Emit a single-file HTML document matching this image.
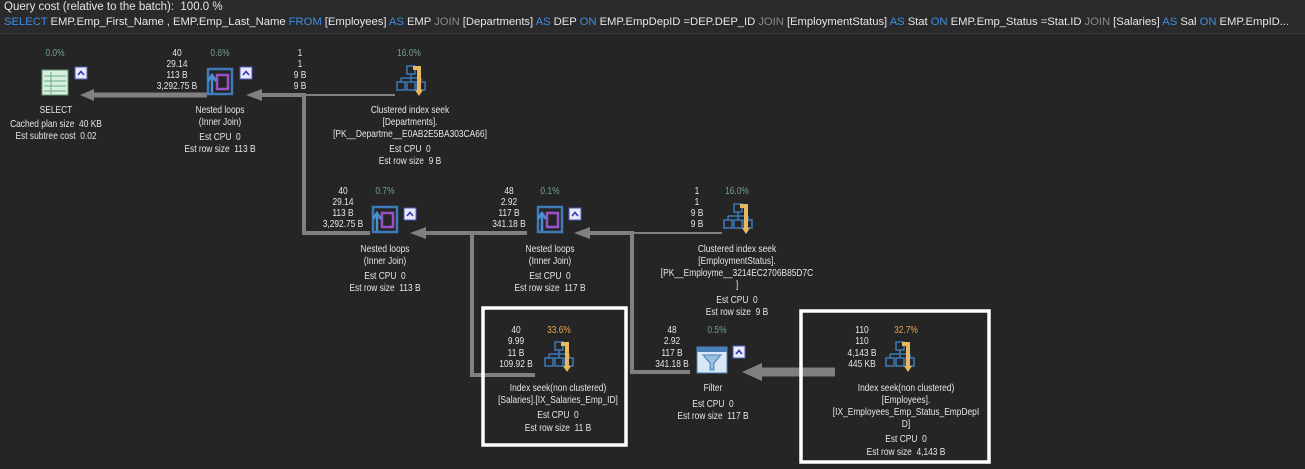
<!DOCTYPE html>
<html><head><meta charset="utf-8"><style>
html,body{margin:0;padding:0;background:#252526;}
body{width:1305px;height:469px;overflow:hidden;position:relative;font-family:"Liberation Sans",sans-serif;}
.hdr{position:absolute;left:0;top:0;width:1305px;height:33px;background:#2a2a2c;border-bottom:1px solid #3a3a3c;overflow:hidden;}
.h1{position:absolute;left:4px;top:1px;font-size:11.5px;color:#e6e6e6;white-space:nowrap;}
.h2{position:absolute;left:4px;top:16px;font-size:11.3px;color:#e6e6e6;white-space:nowrap;letter-spacing:-0.05px;}
.k{color:#3d8ee0}.g{color:#8a8a8a}
svg{position:absolute;left:0;top:0}
</style></head><body>
<div class="hdr">
<div class="h1">Query cost (relative to the batch):&nbsp; 100.0 %</div>
<div class="h2"><span class="k">SELECT</span> EMP.Emp_First_Name , EMP.Emp_Last_Name <span class="k">FROM</span> [Employees] <span class="k">AS</span> EMP <span class="g">JOIN</span> [Departments] <span class="k">AS</span> DEP <span class="k">ON</span> EMP.EmpDepID =DEP.DEP_ID <span class="g">JOIN</span> [EmploymentStatus] <span class="k">AS</span> Stat <span class="k">ON</span> EMP.Emp_Status =Stat.ID <span class="g">JOIN</span> [Salaries] <span class="k">AS</span> Sal <span class="k">ON</span> EMP.EmpID...</div>
</div>
<svg width="1305" height="469" font-family="Liberation Sans, sans-serif" font-size="10" fill="#e6e6e6">
<defs>
<g id="chev"><rect width="12" height="12" fill="#e8e8f8" stroke="#4a5cc0"/><path d="M3 8 L6 4.5 L9 8" stroke="#2a3ab0" stroke-width="1.6" fill="none"/></g>
<g id="nl"><rect x="2" y="2" width="24" height="25" fill="none" stroke="#3c7ab8" stroke-width="2.5"/><rect x="11" y="8" width="11" height="14" fill="none" stroke="#9a50c8" stroke-width="2.5"/><path d="M6 26 V10 M2 14 L6 8 L10 14" stroke="#4a8fd0" stroke-width="2.5" fill="none"/></g>
<g id="seek"><rect x="11" y="2" width="8" height="8" fill="none" stroke="#3c7ab8" stroke-width="1.5"/><path d="M15 10 V14 M5 14 H25 M5 14 V18 M15 14 V18 M25 14 V18" stroke="#3c7ab8" stroke-width="1.5"/><rect x="1" y="18" width="8" height="8" fill="none" stroke="#3c7ab8" stroke-width="1.5"/><rect x="11" y="18" width="8" height="8" fill="none" stroke="#3c7ab8" stroke-width="1.5"/><rect x="21" y="18" width="8" height="8" fill="none" stroke="#3c7ab8" stroke-width="1.5"/><path d="M17 4 H23 V26" stroke="#e8b860" stroke-width="4" fill="none"/><path d="M19 26 L23 32 L27 26 Z" fill="#e8b860"/></g>
</defs>
<g stroke="#808080" fill="none">
<path d="M207 95 H92" stroke-width="5"/>
<path d="M395 95 H262" stroke-width="2"/>
<path d="M370 233 H304 V95 H262" stroke-width="4"/>
<path d="M527 233 H425" stroke-width="4"/>
<path d="M535 375 H472 V233" stroke-width="4"/>
<path d="M722 233 H632" stroke-width="2"/>
<path d="M690 372 H632 V233 H590" stroke-width="4"/>
<path d="M835 372 H760" stroke-width="9"/>
</g>
<g fill="#808080">
<path d="M80 95 L94 89 L94 101 Z"/>
<path d="M246 95 L262 89 L262 101 Z"/>
<path d="M410 233 L426 227 L426 239 Z"/>
<path d="M574 233 L590 227 L590 239 Z"/>
<path d="M742 372 L762 363 L762 381 Z"/>
</g>
<rect x="483" y="308" width="143" height="137" fill="none" stroke="#fff" stroke-width="3.5"/>
<rect x="801" y="311" width="188" height="151" fill="none" stroke="#fff" stroke-width="3.5"/>
<rect x="42" y="70" width="26" height="25" fill="#d8efe0" stroke="#5a9a70"/>
<path d="M44 76 H66 M44 81 H66 M44 86 H66 M44 91 H66 M51 72 V94" stroke="#6aaa80" stroke-width="1"/>
<use href="#chev" x="75" y="67"/>
<g text-anchor="middle">
<text x="55" y="56" fill="#6fa38c">0.0%</text>
<text x="56" y="113">SELECT</text>
<text x="56" y="127">Cached plan size&#160; 40 KB</text>
<text x="56" y="139">Est subtree cost&#160; 0.02</text>
</g>
<use href="#nl" x="206" y="67"/><use href="#chev" x="240" y="67"/>
<g text-anchor="middle">
<text x="177" y="56">40</text><text x="177" y="67">29.14</text><text x="177" y="78">113 B</text><text x="177" y="89">3,292.75 B</text>
<text x="220" y="56" fill="#6fa38c">0.6%</text>
<text x="220" y="113">Nested loops</text><text x="220" y="125">(Inner Join)</text>
<text x="220" y="140">Est CPU&#160; 0</text><text x="220" y="152">Est row size&#160; 113 B</text>
</g>
<use href="#seek" x="396" y="64"/>
<g text-anchor="middle">
<text x="300" y="56">1</text><text x="300" y="67">1</text><text x="300" y="78">9 B</text><text x="300" y="89">9 B</text>
<text x="409" y="56" fill="#6fa38c">16.0%</text>
<text x="410" y="113">Clustered index seek</text><text x="410" y="125">[Departments].</text><text x="410" y="137">[PK__Departme__E0AB2E5BA303CA66]</text>
<text x="410" y="152">Est CPU&#160; 0</text><text x="410" y="164">Est row size&#160; 9 B</text>
</g>
<use href="#nl" x="371" y="205"/><use href="#chev" x="404" y="208"/>
<g text-anchor="middle">
<text x="343" y="194">40</text><text x="343" y="205">29.14</text><text x="343" y="216">113 B</text><text x="343" y="227">3,292.75 B</text>
<text x="385" y="194" fill="#6fa38c">0.7%</text>
<text x="385" y="252">Nested loops</text><text x="385" y="264">(Inner Join)</text>
<text x="385" y="279">Est CPU&#160; 0</text><text x="385" y="291">Est row size&#160; 113 B</text>
</g>
<use href="#nl" x="536" y="205"/><use href="#chev" x="569" y="208"/>
<g text-anchor="middle">
<text x="509" y="194">48</text><text x="509" y="205">2.92</text><text x="509" y="216">117 B</text><text x="509" y="227">341.18 B</text>
<text x="550" y="194" fill="#6fa38c">0.1%</text>
<text x="550" y="252">Nested loops</text><text x="550" y="264">(Inner Join)</text>
<text x="550" y="279">Est CPU&#160; 0</text><text x="550" y="291">Est row size&#160; 117 B</text>
</g>
<use href="#seek" x="723" y="202"/>
<g text-anchor="middle">
<text x="697" y="194">1</text><text x="697" y="205">1</text><text x="697" y="216">9 B</text><text x="697" y="227">9 B</text>
<text x="737" y="194" fill="#6fa38c">16.0%</text>
<text x="737" y="252">Clustered index seek</text><text x="737" y="264">[EmploymentStatus].</text><text x="737" y="276">[PK__Employme__3214EC2706B85D7C</text><text x="737" y="288">]</text>
<text x="737" y="303">Est CPU&#160; 0</text><text x="737" y="315">Est row size&#160; 9 B</text>
</g>
<use href="#seek" x="544" y="340"/>
<g text-anchor="middle">
<text x="516" y="333">40</text><text x="516" y="344">9.99</text><text x="516" y="356">11 B</text><text x="516" y="367">109.92 B</text>
<text x="559" y="333" fill="#e8a850">33.6%</text>
<text x="558" y="391">Index seek(non clustered)</text><text x="558" y="403">[Salaries].[IX_Salaries_Emp_ID]</text>
<text x="558" y="418">Est CPU&#160; 0</text><text x="558" y="431">Est row size&#160; 11 B</text>
</g>
<rect x="697" y="347" width="30" height="26" fill="#d8e8f4" stroke="#4a80b8"/>
<rect x="697" y="347" width="30" height="5" fill="#4a80b8"/>
<path d="M703 355 H721 L714 363 V370 H710 V363 Z" fill="#9ac0e0" stroke="#4a80b8"/>
<use href="#chev" x="733" y="346"/>
<g text-anchor="middle">
<text x="672" y="333">48</text><text x="672" y="344">2.92</text><text x="672" y="356">117 B</text><text x="672" y="367">341.18 B</text>
<text x="717" y="333" fill="#6fa38c">0.5%</text>
<text x="713" y="391">Filter</text>
<text x="713" y="407">Est CPU&#160; 0</text><text x="713" y="419">Est row size&#160; 117 B</text>
</g>
<use href="#seek" x="885" y="340"/>
<g text-anchor="middle">
<text x="862" y="333">110</text><text x="862" y="344">110</text><text x="862" y="356">4,143 B</text><text x="862" y="367">445 KB</text>
<text x="906" y="333" fill="#e8a850">32.7%</text>
<text x="906" y="391">Index seek(non clustered)</text><text x="906" y="403">[Employees].</text><text x="906" y="415">[IX_Employees_Emp_Status_EmpDepI</text><text x="906" y="427">D]</text>
<text x="906" y="442">Est CPU&#160; 0</text><text x="906" y="455">Est row size&#160; 4,143 B</text>
</g>
</svg>
<script>
document.querySelectorAll('svg text').forEach(function(t){var x=+t.getAttribute('x');t.setAttribute('transform','translate('+x+' 0) scale(0.84 1) translate('+(-x)+' 0)');});
</script>
</body></html>
